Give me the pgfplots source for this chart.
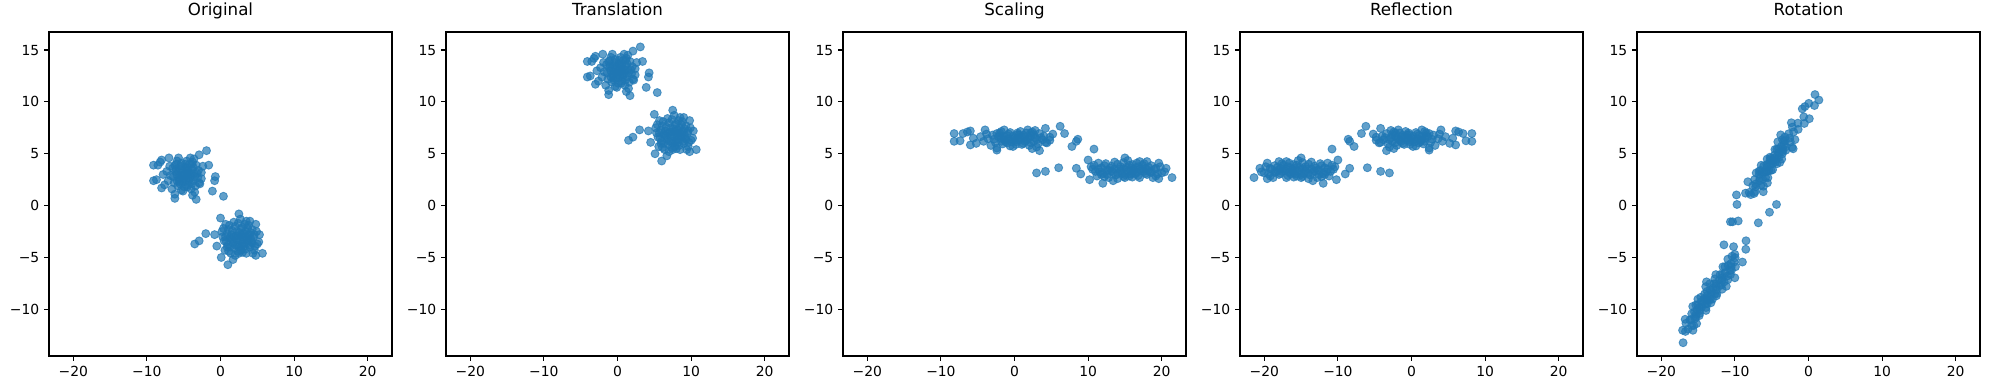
\documentclass[border=0pt]{standalone}
\usepackage{fontspec}
\setmainfont{DejaVu Sans}
\usepackage{pgfplots}
\usepackage{pgfplotstable}
\pgfplotsset{compat=1.18}
\definecolor{mplblue}{HTML}{1F77B4}
\pgfplotstableread{
x y tx ty sx sy fx ox oy
-9.1 2.4 -4.1 12.4 -8.2 6.2 8.2 1.41 10.18
-9.1 3.9 -4.1 13.9 -8.2 6.95 8.2 0.88 10.71
-8.5 3.9 -3.5 13.9 -7.0 6.95 7.0 0.04 9.86
-8.2 4.2 -3.2 14.2 -6.4 7.1 6.4 -0.49 9.55
-8.0 4.4 -3.0 14.4 -6.0 7.2 6.0 -0.85 9.33
-7.0 4.6 -2.0 14.6 -4.0 7.3 4.0 -2.33 7.99
-5.7 4.6 -0.7 14.6 -1.4 7.3 1.4 -4.17 6.15
-4.1 4.6 0.9 14.6 1.8 7.3 -1.8 -6.43 3.89
-3.6 4.5 1.4 14.5 2.8 7.25 -2.8 -7.11 3.15
-2.9 4.9 2.1 14.9 4.2 7.45 -4.2 -8.24 2.30
-1.9 5.3 3.1 15.3 6.2 7.65 -6.2 -9.79 1.03
-1.6 3.9 3.4 13.9 6.8 6.95 -6.8 -9.72 0.11
-0.7 2.8 4.3 12.8 8.6 6.4 -8.6 -10.61 -1.56
-0.8 2.4 4.2 12.4 8.4 6.2 -8.4 -10.32 -1.56
-1.1 1.4 3.9 11.4 7.8 5.7 -7.8 -9.55 -1.48
0.4 0.9 5.4 10.9 10.8 5.45 -10.8 -11.49 -3.78
-3.3 0.6 1.7 10.6 3.4 5.3 -3.4 -6.15 1.34
-3.8 1.0 1.2 11.0 2.4 5.5 -2.4 -5.59 2.19
-6.2 0.7 -1.2 10.7 -2.4 5.35 2.4 -2.09 5.48
-6.2 1.1 -1.2 11.1 -2.4 5.55 2.4 -2.23 5.62
-8.0 1.7 -3.0 11.7 -6.0 5.85 6.0 0.11 8.38
-8.7 2.5 -3.7 12.5 -7.4 6.25 7.4 0.81 9.65
-7.3 3.3 -2.3 13.3 -4.6 6.65 4.6 -1.45 7.95
-5.3 1.5 -0.3 11.5 -0.6 5.75 0.6 -3.64 4.49
-2.8 2.1 2.2 12.1 4.4 6.05 -4.4 -7.39 1.17
-2.6 3.2 2.4 13.2 4.8 6.6 -4.8 -8.06 1.27
-2.4 3.8 2.6 13.8 5.2 6.9 -5.2 -8.56 1.20
-6.8 2.9 -1.8 12.9 -3.6 6.45 3.6 -2.02 7.11
-6.5 3.6 -1.5 13.6 -3.0 6.8 3.0 -2.69 6.93
-6.3 2.2 -1.3 12.2 -2.6 6.1 2.6 -2.47 6.15
-6.0 4.0 -1.0 14.0 -2.0 7.0 2.0 -3.54 6.36
-5.9 3.0 -0.9 13.0 -1.8 6.5 1.8 -3.32 5.87
-5.8 1.9 -0.8 11.9 -1.6 5.95 1.6 -3.08 5.34
-5.6 2.6 -0.6 12.6 -1.2 6.3 1.2 -3.61 5.30
-5.5 3.5 -0.5 13.5 -1.0 6.75 1.0 -4.07 5.48
-5.3 4.1 -0.3 14.1 -0.6 7.05 0.6 -4.56 5.41
-5.2 2.3 -0.2 12.3 -0.4 6.15 0.4 -4.07 4.63
-5.0 3.0 0.0 13.0 0.0 6.5 0.0 -4.60 4.60
-4.9 1.8 0.1 11.8 0.2 5.9 -0.2 -4.31 4.03
-4.8 3.7 0.2 13.7 0.4 6.85 -0.4 -5.13 4.56
-4.7 2.6 0.3 12.6 0.6 6.3 -0.6 -4.88 4.03
-4.5 3.3 0.5 13.3 1.0 6.65 -1.0 -5.41 4.00
-4.4 2.0 0.6 12.0 1.2 6.0 -1.2 -5.09 3.39
-4.2 4.0 0.8 14.0 1.6 7.0 -1.6 -6.08 3.82
-4.1 2.8 0.9 12.8 1.8 6.4 -1.8 -5.80 3.25
-4.0 1.6 1.0 11.6 2.0 5.8 -2.0 -5.52 2.69
-3.9 3.5 1.1 13.5 2.2 6.75 -2.2 -6.33 3.22
-3.7 2.4 1.3 12.4 2.6 6.2 -2.6 -6.22 2.55
-3.6 3.1 1.4 13.1 2.8 6.55 -2.8 -6.61 2.65
-3.4 1.9 1.6 11.9 3.2 5.95 -3.2 -6.47 1.94
-3.3 3.9 1.7 13.9 3.4 6.95 -3.4 -7.32 2.51
-3.1 2.7 1.9 12.7 3.8 6.35 -3.8 -7.18 1.80
-3.0 3.4 2.0 13.4 4.0 6.7 -4.0 -7.57 1.91
-2.9 2.2 2.1 12.2 4.2 6.1 -4.2 -7.28 1.34
-6.6 1.6 -1.6 11.6 -3.2 5.8 3.2 -1.84 6.36
-7.1 2.4 -2.1 12.4 -4.2 6.2 4.2 -1.41 7.35
-6.1 3.3 -1.1 13.3 -2.2 6.65 2.2 -3.15 6.26
-5.4 2.9 -0.4 12.9 -0.8 6.45 0.8 -4.00 5.13
-4.6 4.3 0.4 14.3 0.8 7.15 -0.8 -5.62 4.49
-3.8 4.2 1.2 14.2 2.4 7.1 -2.4 -6.72 3.32
-5.1 1.4 -0.1 11.4 -0.2 5.7 0.2 -3.89 4.17
-4.3 2.4 0.7 12.4 1.4 6.2 -1.4 -5.37 3.39
-5.7 2.7 -0.7 12.7 -1.4 6.35 1.4 -3.50 5.48
-7.6 2.0 -2.6 12.0 -5.2 6.0 5.2 -0.57 7.92
-7.8 3.0 -2.8 13.0 -5.6 6.5 5.6 -0.64 8.56
-6.9 3.8 -1.9 13.8 -3.8 6.9 3.8 -2.19 7.57
-3.5 1.3 1.5 11.3 3.0 5.65 -3.0 -6.12 1.87
-2.6 2.6 2.4 12.6 4.8 6.3 -4.8 -7.85 1.06
-4.8 3.0 0.2 13.0 0.4 6.5 -0.4 -4.88 4.31
-5.9 4.3 -0.9 14.3 -1.8 7.15 1.8 -3.78 6.82
-6.4 2.8 -1.4 12.8 -2.8 6.4 2.8 -2.55 6.51
-6.2 3.9 -1.2 13.9 -2.4 6.95 2.4 -3.22 6.61
-5.9 2.4 -0.9 12.4 -1.8 6.2 1.8 -3.11 5.66
-5.7 3.3 -0.7 13.3 -1.4 6.65 1.4 -3.71 5.69
-5.5 2.1 -0.5 12.1 -1.0 6.05 1.0 -3.57 4.99
-5.4 3.8 -0.4 13.8 -0.8 6.9 0.8 -4.31 5.44
-5.2 2.8 -0.2 12.8 -0.4 6.4 0.4 -4.24 4.81
-5.1 3.4 -0.1 13.4 -0.2 6.7 0.2 -4.60 4.88
-4.9 2.3 0.1 12.3 0.2 6.15 -0.2 -4.49 4.21
-4.8 4.0 0.2 14.0 0.4 7.0 -0.4 -5.23 4.67
-4.6 2.9 0.4 12.9 0.8 6.45 -0.8 -5.13 4.00
-4.5 1.8 0.5 11.8 1.0 5.9 -1.0 -4.88 3.46
-4.4 3.6 0.6 13.6 1.2 6.8 -1.2 -5.66 3.96
-4.2 2.6 0.8 12.6 1.6 6.3 -1.6 -5.59 3.32
-4.0 3.1 1.0 13.1 2.0 6.55 -2.0 -6.05 3.22
-3.9 2.1 1.1 12.1 2.2 6.05 -2.2 -5.83 2.72
-3.7 3.7 1.3 13.7 2.6 6.85 -2.6 -6.68 3.01
-3.5 2.8 1.5 12.8 3.0 6.4 -3.0 -6.65 2.40
-3.2 3.1 1.8 13.1 3.6 6.55 -3.6 -7.18 2.09
-3.9 4.0 1.1 14.0 2.2 7.0 -2.2 -6.51 3.39
-6.0 3.5 -1.0 13.5 -2.0 6.75 2.0 -3.36 6.19
-5.6 2.3 -0.6 12.3 -1.2 6.15 1.2 -3.50 5.20
-4.3 3.2 0.7 13.2 1.4 6.6 -1.4 -5.66 3.68
-5.0 2.6 0.0 12.6 0.0 6.3 0.0 -4.45 4.45
-4.7 3.6 0.3 13.6 0.6 6.8 -0.6 -5.23 4.38
0.0 -1.2 5.0 8.8 10.0 4.4 -10.0 -10.18 -3.96
2.5 -0.8 7.5 9.2 15.0 4.6 -15.0 -13.86 -7.35
-3.5 -3.7 1.5 6.3 3.0 3.15 -3.0 -4.35 0.11
-2.9 -3.4 2.1 6.6 4.2 3.3 -4.2 -5.30 -0.64
-2.0 -2.7 3.0 7.3 6.0 3.65 -6.0 -6.82 -1.66
0.1 -5.0 5.1 5.0 10.2 2.5 -10.2 -8.98 -5.44
1.0 -5.7 6.0 4.3 12.0 2.15 -12.0 -10.01 -6.96
1.7 -5.2 6.7 4.8 13.4 2.4 -13.4 -11.17 -7.78
2.5 -4.6 7.5 5.4 15.0 2.7 -15.0 -12.52 -8.70
4.8 -4.8 9.8 5.2 19.6 2.6 -19.6 -15.70 -12.02
5.7 -4.6 10.7 5.4 21.4 2.7 -21.4 -17.04 -13.22
5.2 -3.5 10.2 6.5 20.4 3.25 -20.4 -16.72 -12.13
4.8 -1.8 9.8 8.2 19.6 4.1 -19.6 -16.76 -10.96
3.5 -1.5 8.5 8.5 17.0 4.25 -17.0 -15.03 -9.02
-0.8 -2.8 4.2 7.2 8.4 3.6 -8.4 -8.49 -3.39
-0.5 -3.9 4.5 6.1 9.0 3.05 -9.0 -8.52 -4.21
0.4 -2.2 5.4 7.8 10.8 3.9 -10.8 -10.39 -4.88
0.5 -3.4 5.5 6.6 11.0 3.3 -11.0 -10.11 -5.44
0.6 -4.3 5.6 5.7 11.2 2.85 -11.2 -9.93 -5.90
0.9 -2.7 5.9 7.3 11.8 3.65 -11.8 -10.92 -5.76
1.0 -3.8 6.0 6.2 12.0 3.1 -12.0 -10.68 -6.29
1.2 -1.9 6.2 8.1 12.4 4.05 -12.4 -11.63 -5.90
1.3 -3.1 6.3 6.9 12.6 3.45 -12.6 -11.35 -6.47
1.4 -4.6 6.4 5.4 12.8 2.7 -12.8 -10.96 -7.14
1.6 -2.4 6.6 7.6 13.2 3.8 -13.2 -12.02 -6.65
1.7 -3.6 6.7 6.4 13.4 3.2 -13.4 -11.74 -7.21
1.9 -4.1 6.9 5.9 13.8 2.95 -13.8 -11.84 -7.67
2.0 -2.0 7.0 8.0 14.0 4.0 -14.0 -12.73 -7.07
2.1 -2.9 7.1 7.1 14.2 3.55 -14.2 -12.55 -7.53
2.3 -3.8 7.3 6.2 14.6 3.1 -14.6 -12.52 -8.13
2.4 -1.7 7.4 8.3 14.8 4.15 -14.8 -13.40 -7.53
2.6 -2.6 7.6 7.4 15.2 3.7 -15.2 -13.36 -8.13
2.7 -3.4 7.7 6.6 15.4 3.3 -15.4 -13.22 -8.56
2.8 -4.3 7.8 5.7 15.6 2.85 -15.6 -13.05 -9.02
3.0 -2.1 8.0 7.9 16.0 3.95 -16.0 -14.11 -8.52
3.1 -3.0 8.1 7.0 16.2 3.5 -16.2 -13.93 -8.98
3.2 -3.9 8.2 6.1 16.4 3.05 -16.4 -13.75 -9.44
3.4 -2.5 8.4 7.5 16.8 3.75 -16.8 -14.53 -9.23
3.5 -4.6 8.5 5.4 17.0 2.7 -17.0 -13.93 -10.11
3.6 -3.3 8.6 6.7 17.2 3.35 -17.2 -14.53 -9.79
3.8 -1.9 8.8 8.1 17.6 4.05 -17.6 -15.31 -9.58
3.9 -2.8 8.9 7.2 17.8 3.6 -17.8 -15.13 -10.04
4.0 -4.0 9.0 6.0 18.0 3.0 -18.0 -14.85 -10.61
4.2 -3.5 9.2 6.5 18.4 3.25 -18.4 -15.31 -10.71
4.3 -2.3 9.3 7.7 18.6 3.85 -18.6 -15.87 -10.43
4.5 -3.0 9.5 7.0 19.0 3.5 -19.0 -15.91 -10.96
4.6 -4.3 9.6 5.7 19.2 2.85 -19.2 -15.59 -11.56
4.9 -2.5 9.9 7.5 19.8 3.75 -19.8 -16.65 -11.35
5.0 -3.7 10.0 6.3 20.0 3.15 -20.0 -16.37 -11.91
0.3 -3.0 5.3 7.0 10.6 3.5 -10.6 -9.97 -5.02
0.8 -3.5 5.8 6.5 11.6 3.25 -11.6 -10.50 -5.90
1.5 -2.8 6.5 7.2 13.0 3.6 -13.0 -11.74 -6.65
2.2 -3.3 7.2 6.7 14.4 3.35 -14.4 -12.55 -7.81
2.9 -2.8 7.9 7.2 15.8 3.6 -15.8 -13.72 -8.63
3.3 -3.6 8.3 6.4 16.6 3.2 -16.6 -14.00 -9.48
3.7 -2.9 8.7 7.1 17.4 3.55 -17.4 -14.81 -9.79
4.1 -3.2 9.1 6.8 18.2 3.4 -18.2 -15.27 -10.47
1.1 -4.4 6.1 5.6 12.2 2.8 -12.2 -10.61 -6.65
2.5 -4.0 7.5 6.0 15.0 3.0 -15.0 -12.73 -8.49
1.8 -1.6 6.8 8.4 13.6 4.2 -13.6 -12.59 -6.65
3.3 -1.8 8.3 8.2 16.6 4.1 -16.6 -14.64 -8.84
0.2 -2.5 5.2 7.5 10.4 3.75 -10.4 -10.01 -4.70
5.3 -2.8 10.3 7.2 20.6 3.6 -20.6 -17.11 -12.02
4.4 -4.6 9.4 5.4 18.8 2.7 -18.8 -15.20 -11.38
2.0 -4.8 7.0 5.2 14.0 2.6 -14.0 -11.74 -8.06
3.0 -4.5 8.0 5.5 16.0 2.75 -16.0 -13.26 -9.37
0.7 -1.8 5.7 8.2 11.4 4.1 -11.4 -10.96 -5.16
2.7 -1.3 7.7 8.7 15.4 4.35 -15.4 -13.97 -7.81
4.0 -1.5 9.0 8.5 18.0 4.25 -18.0 -15.73 -9.72
1.4 -3.2 6.4 6.8 12.8 3.4 -12.8 -11.46 -7.35
0.7 -3.0 5.7 7.0 11.4 3.5 -11.4 -10.54 -5.59
1.1 -2.3 6.1 7.7 12.2 3.85 -12.2 -11.35 -5.90
1.3 -4.0 6.3 6.0 12.6 3.0 -12.6 -11.03 -6.79
1.8 -3.0 6.8 7.0 13.6 3.5 -13.6 -12.09 -7.14
2.0 -3.8 7.0 6.2 14.0 3.1 -14.0 -12.09 -7.71
2.2 -2.5 7.2 7.5 14.4 3.75 -14.4 -12.83 -7.53
2.4 -4.4 7.4 5.6 14.8 2.8 -14.8 -12.45 -8.49
2.6 -3.1 7.6 6.9 15.2 3.45 -15.2 -13.19 -8.31
2.8 -2.2 7.8 7.8 15.6 3.9 -15.6 -13.79 -8.27
3.0 -3.7 8.0 6.3 16.0 3.15 -16.0 -13.54 -9.09
3.2 -2.7 8.2 7.3 16.4 3.65 -16.4 -14.18 -9.02
3.4 -4.2 8.4 5.8 16.8 2.9 -16.8 -13.93 -9.83
3.5 -3.0 8.5 7.0 17.0 3.5 -17.0 -14.50 -9.55
3.7 -2.2 8.7 7.8 17.4 3.9 -17.4 -15.06 -9.55
3.9 -3.8 8.9 6.2 17.8 3.1 -17.8 -14.78 -10.39
4.1 -2.6 9.1 7.4 18.2 3.7 -18.2 -15.49 -10.25
4.3 -3.6 9.3 6.4 18.6 3.2 -18.6 -15.41 -10.89
4.6 -2.8 9.6 7.2 19.2 3.6 -19.2 -16.12 -11.03
4.7 -3.9 9.7 6.1 19.4 3.05 -19.4 -15.87 -11.56
1.6 -3.3 6.6 6.7 13.2 3.35 -13.2 -11.70 -6.96
2.4 -2.9 7.4 7.1 14.8 3.55 -14.8 -12.98 -7.95
3.1 -3.3 8.1 6.7 16.2 3.35 -16.2 -13.82 -9.09
3.8 -3.4 8.8 6.6 17.6 3.3 -17.6 -14.78 -10.11
0.9 -4.0 5.9 6.0 11.8 3.0 -11.8 -10.47 -6.22
2.9 -3.9 7.9 6.1 15.8 3.05 -15.8 -13.33 -9.02
}\pts
\pgfplotsset{
  panel/.style={
    scale only axis, width=246.96pt, height=233.28pt, anchor=south west,
    xmin=-23.3, xmax=23.3, ymin=-14.5, ymax=16.74,
    xtick={-20,-10,0,10,20}, xticklabels={−20,−10,0,10,20},
    ytick={-10,-5,0,5,10,15}, yticklabels={−10,−5,0,5,10,15},
    xtick pos=left, ytick pos=left,
    tick align=outside, major tick length=3.5pt,
    every tick/.style={black, line width=0.8pt},
    axis line style={line width=0.8pt},
    tick label style={font=\fontsize{10}{12}\selectfont},
    title style={font=\fontsize{12}{14}\selectfont, at={(0.5,1)}, anchor=base, yshift=6pt},
  },
  pts/.style={only marks, mark=*, mark size=2.9pt,
    mark options={fill=mplblue, draw=mplblue, fill opacity=0.7, draw opacity=0.7, line width=0.6pt}},
}
\begin{document}
\begin{tikzpicture}
\path[use as bounding box] (0,0) rectangle (1432.08pt,280.8pt);
\begin{axis}[panel, at={(35.28pt,24.48pt)}, title={Original}]
\addplot[pts] table[x=x, y=y] {\pts};
\end{axis}
\begin{axis}[panel, at={(321.12pt,24.48pt)}, title={Translation}]
\addplot[pts] table[x=tx, y=ty] {\pts};
\end{axis}
\begin{axis}[panel, at={(606.96pt,24.48pt)}, title={Scaling}]
\addplot[pts] table[x=sx, y=sy] {\pts};
\end{axis}
\begin{axis}[panel, at={(892.8pt,24.48pt)}, title={Reflection}]
\addplot[pts] table[x=fx, y=sy] {\pts};
\end{axis}
\begin{axis}[panel, at={(1178.64pt,24.48pt)}, title={Rotation}]
\addplot[pts] table[x=ox, y=oy] {\pts};
\end{axis}
\end{tikzpicture}
\end{document}
